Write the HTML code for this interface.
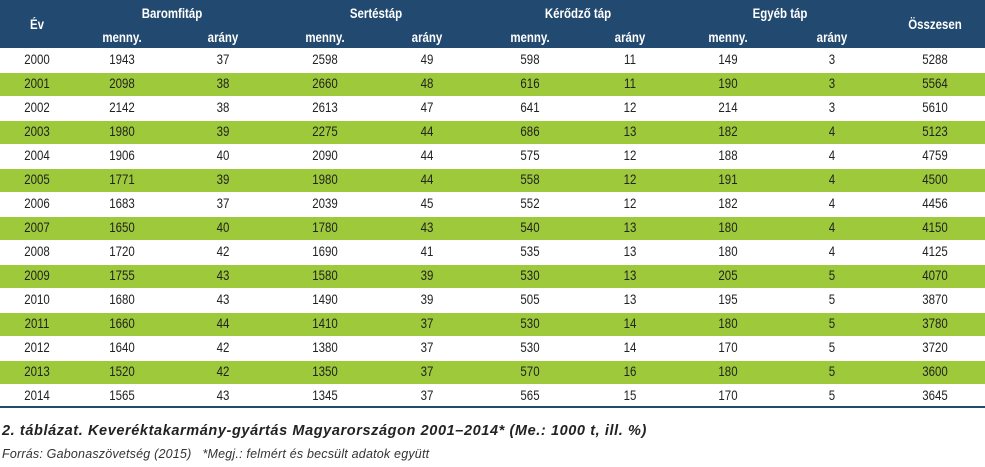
<!DOCTYPE html>
<html><head><meta charset="utf-8"><style>
body{margin:0;width:985px;height:467px;background:#fff;position:relative;overflow:hidden;font-family:"Liberation Sans Narrow","Liberation Sans",sans-serif;color:#222}
.hd{position:absolute;left:0;top:0;width:985px;height:48px;background:#22496f}
.t{position:absolute;width:100px;margin-left:-50px;text-align:center;font-size:13.5px;line-height:16px;transform:scaleX(0.85)}
.h{color:#fff;font-weight:bold;font-size:13.5px}
.row{position:absolute;left:0;width:985px;height:23px}
.g{background:#9dc93b}
.cap{position:absolute;left:2px;top:423px;font-family:"Liberation Sans",sans-serif;font-weight:bold;font-style:italic;font-size:14.5px;color:#222;letter-spacing:0.6px}
.src{position:absolute;left:2px;top:447px;font-family:"Liberation Sans",sans-serif;font-style:italic;font-size:12.5px;color:#333;letter-spacing:0.2px}
</style></head><body>
<div class="hd"></div>
<div class="t h" style="left:37px;top:17px">Év</div>
<div class="t h" style="left:172px;top:6px">Baromfitáp</div>
<div class="t h" style="left:376px;top:6px">Sertéstáp</div>
<div class="t h" style="left:578px;top:6px">Kérődző táp</div>
<div class="t h" style="left:780px;top:6px">Egyéb táp</div>
<div class="t h" style="left:935px;top:17px">Összesen</div>
<div class="t h" style="left:122px;top:30px">menny.</div>
<div class="t h" style="left:223px;top:30px">arány</div>
<div class="t h" style="left:325px;top:30px">menny.</div>
<div class="t h" style="left:427px;top:30px">arány</div>
<div class="t h" style="left:530px;top:30px">menny.</div>
<div class="t h" style="left:630px;top:30px">arány</div>
<div class="t h" style="left:728px;top:30px">menny.</div>
<div class="t h" style="left:832px;top:30px">arány</div>
<div id="rows"></div>
<div style="position:absolute;left:0;top:406px;width:985px;height:2px;background:#22496f"></div>
<div class="cap">2. táblázat. Keveréktakarmány-gyártás Magyarországon 2001–2014* (Me.: 1000 t, ill. %)</div>
<div class="src">Forrás: Gabonaszövetség (2015) &nbsp;&nbsp;*Megj.: felmért és becsült adatok együtt</div>
<script>
var d=[[2000,1943,37,2598,49,598,11,149,3,5288],[2001,2098,38,2660,48,616,11,190,3,5564],[2002,2142,38,2613,47,641,12,214,3,5610],[2003,1980,39,2275,44,686,13,182,4,5123],[2004,1906,40,2090,44,575,12,188,4,4759],[2005,1771,39,1980,44,558,12,191,4,4500],[2006,1683,37,2039,45,552,12,182,4,4456],[2007,1650,40,1780,43,540,13,180,4,4150],[2008,1720,42,1690,41,535,13,180,4,4125],[2009,1755,43,1580,39,530,13,205,5,4070],[2010,1680,43,1490,39,505,13,195,5,3870],[2011,1660,44,1410,37,530,14,180,5,3780],[2012,1640,42,1380,37,530,14,170,5,3720],[2013,1520,42,1350,37,570,16,180,5,3600],[2014,1565,43,1345,37,565,15,170,5,3645]];
var cx=[37,122,223,325,427,530,630,728,832,935],h='';
d.forEach(function(r,i){var y=48+i*24;
if(i%2)h+='<div class="row g" style="top:'+(y+0.5)+'px"></div>';
r.forEach(function(v,j){h+='<div class="t" style="left:'+cx[j]+'px;top:'+(y+4)+'px">'+v+'</div>';});});
document.getElementById('rows').innerHTML=h;
</script>
</body></html>
